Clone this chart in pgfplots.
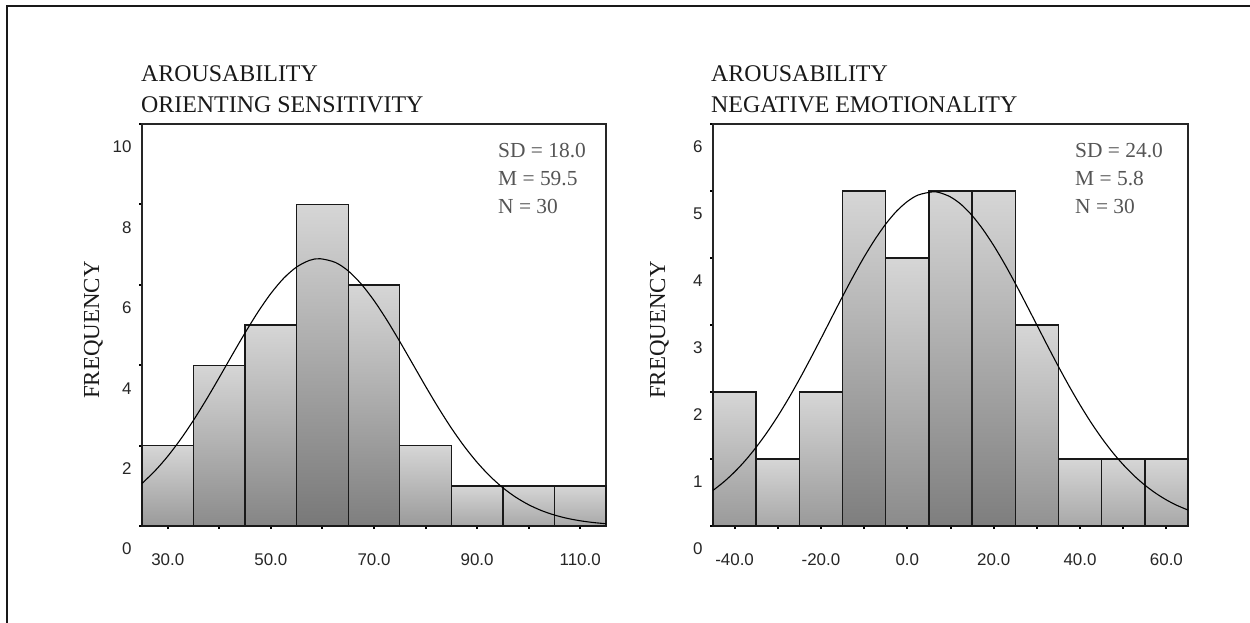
\documentclass[border=0pt]{standalone}
\usepackage{fontspec}
\setmainfont{Liberation Serif}
\newfontfamily\arial{Liberation Sans}
\usepackage{pgfplots}
\pgfplotsset{compat=1.18}
\definecolor{bartop}{RGB}{214,214,214}
\definecolor{hA}{RGB}{168,168,168}
\definecolor{hB}{RGB}{154,154,154}
\definecolor{hC}{RGB}{146,146,146}
\definecolor{hD}{RGB}{139,139,139}
\definecolor{hE}{RGB}{133,133,133}
\definecolor{hF}{RGB}{126,126,126}
\definecolor{hG}{RGB}{120,120,120}
\definecolor{stat}{RGB}{85,85,85}
\pgfplotsset{
  hbar/.style={ybar, bar width=10, bar shift=0pt, draw=black!90, line width=1.4bp, top color=bartop, bottom color=#1},
  hist/.style={
    scale only axis, width=#1, height=402bp,
    anchor=north west, ymin=0,
    axis line style={line width=1.5bp, black!85},
    tick pos=left,
    tick align=outside, major tick length=3bp,
    tick style={line width=2bp, black},
    ticklabel style={font=\fontsize{17}{17}\selectfont\arial, text=black!85},
    xticklabel style={yshift=-21bp},
    yticklabel style={yshift=-23bp, xshift=-4bp},
    clip=false,
  },
}
\begin{document}
\begin{tikzpicture}
\path[use as bounding box] (0,0) rectangle (1250bp,-623bp);
\fill[white] (0,0) rectangle (1250bp,-623bp);
\draw[line width=2bp, black!90] (7bp,-623bp) -- (7bp,-5.5bp) -- (1250bp,-5.5bp);
% ---------------- left
\begin{axis}[hist=464bp, at={(142bp,-124bp)},
  xmin=25, xmax=115, ymax=10,
  xtick={30,40,...,110}, xticklabels={30.0,,50.0,,70.0,,90.0,,110.0},
  ytick={0,2,...,10}, yticklabels={0,2,4,6,8,10}]
\addplot[hbar=hA] coordinates {(90,1) (100,1) (110,1)};
\addplot[hbar=hB] coordinates {(30,2) (80,2)};
\addplot[hbar=hD] coordinates {(40,4)};
\addplot[hbar=hE] coordinates {(50,5)};
\addplot[hbar=hF] coordinates {(70,6)};
\addplot[hbar=hG] coordinates {(60,8)};
\addplot[black, line width=1.1bp, smooth] coordinates {
(25,1.059) (27.5,1.369) (30,1.736) (32.5,2.159) (35,2.633) (37.5,3.150) (40,3.697) (42.5,4.257)
(45,4.806) (47.5,5.324) (50,5.785) (52.5,6.165) (55,6.444) (57.5,6.608) (59.5,6.649) (62.5,6.557)
(65,6.346) (67.5,6.023) (70,5.609) (72.5,5.122) (75,4.589) (77.5,4.033) (80,3.476) (82.5,2.939)
(85,2.437) (87.5,1.983) (90,1.583) (92.5,1.239) (95,0.951) (97.5,0.716) (100,0.529) (102.5,0.383)
(105,0.273) (107.5,0.190) (110,0.130) (112.5,0.087) (115,0.057)};
\end{axis}
% ---------------- right
\begin{axis}[hist=475bp, at={(713bp,-124bp)},
  xmin=-45, xmax=65, ymax=6,
  xtick={-40,-30,...,60}, xticklabels={-40.0,,-20.0,,0.0,,20.0,,40.0,,60.0},
  ytick={0,1,...,6}, yticklabels={0,1,2,3,4,5,6}]
\addplot[hbar=hA] coordinates {(-30,1) (40,1) (50,1) (60,1)};
\addplot[hbar=hB] coordinates {(-40,2) (-20,2)};
\addplot[hbar=hC] coordinates {(30,3)};
\addplot[hbar=hD] coordinates {(0,4)};
\addplot[hbar=hF] coordinates {(-10,5) (10,5) (20,5)};
\addplot[black, line width=1.1bp, smooth] coordinates {
(-45,0.531) (-42.5,0.658) (-40,0.807) (-37.5,0.979) (-35,1.176) (-32.5,1.396) (-30,1.639) (-27.5,1.904)
(-25,2.189) (-22.5,2.489) (-20,2.798) (-17.5,3.113) (-15,3.426) (-12.5,3.729) (-10,4.016) (-7.5,4.277)
(-5,4.507) (-2.5,4.698) (0,4.843) (2.5,4.940) (5.8,4.987) (7.5,4.975) (10,4.911) (12.5,4.797)
(15,4.634) (17.5,4.428) (20,4.186) (22.5,3.915) (25,3.621) (27.5,3.313) (30,3.000) (32.5,2.686)
(35,2.379) (37.5,2.085) (40,1.807) (42.5,1.549) (45,1.314) (47.5,1.102) (50,0.915) (52.5,0.751)
(55,0.610) (57.5,0.490) (60,0.389) (62.5,0.306) (65,0.238)};
\end{axis}
% ---------------- texts
\begin{scope}[every node/.style={inner sep=0pt, text=black!90, font=\fontsize{24}{24}\selectfont}]
\node[anchor=base west] at (141bp,-81bp) {AROUSABILITY};
\node[anchor=base west] at (141bp,-112bp) {ORIENTING SENSITIVITY};
\node[anchor=base west] at (711bp,-81bp) {AROUSABILITY};
\node[anchor=base west] at (711bp,-112bp) {NEGATIVE EMOTIONALITY};
\end{scope}
\begin{scope}[every node/.style={inner sep=0pt, text=black!90, font=\fontsize{23}{23}\selectfont}]
\node[rotate=90, anchor=base] at (99bp,-330bp) {FREQUENCY};
\node[rotate=90, anchor=base] at (665bp,-330bp) {FREQUENCY};
\end{scope}
\begin{scope}[every node/.style={inner sep=0pt, text=stat, font=\fontsize{21.5}{21.5}\selectfont, anchor=base west}]
\node at (498bp,-157bp) {SD = 18.0};
\node at (498bp,-185bp) {M = 59.5};
\node at (498bp,-213bp) {N = 30};
\node at (1075bp,-157bp) {SD = 24.0};
\node at (1075bp,-185bp) {M = 5.8};
\node at (1075bp,-213bp) {N = 30};
\end{scope}
\end{tikzpicture}
\end{document}
